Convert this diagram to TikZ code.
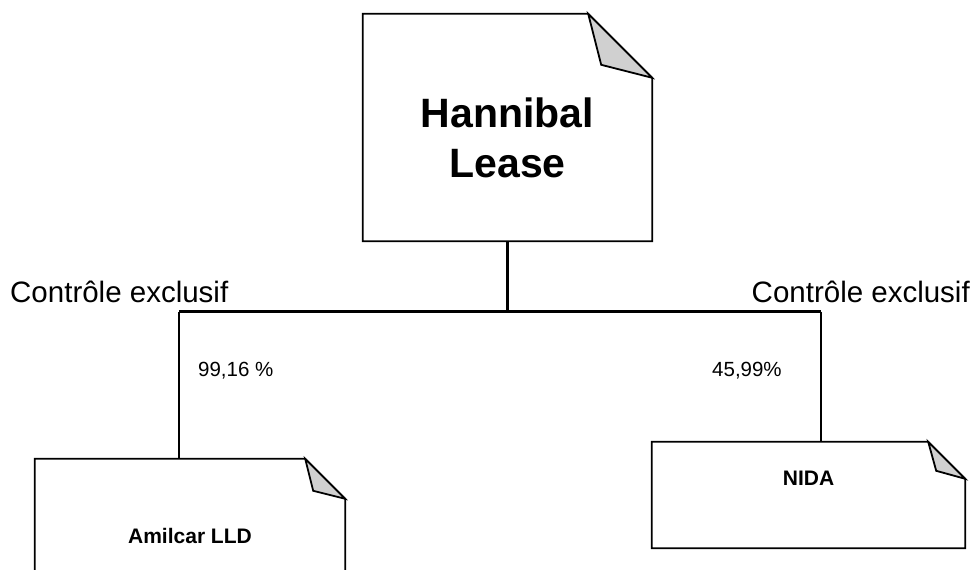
\documentclass[tikz,border=0pt]{standalone}
\usepackage{fontspec}
\setmainfont{Liberation Sans}
\usetikzlibrary{calc}
\definecolor{foldgray}{HTML}{D0D0D0}
\tikzset{
  boxline/.style={line width=1.8pt, line join=miter},
  conn/.style={line width=2.4pt},
  docbox/.style={rectangle, inner sep=0pt, draw=none},
  lbl/.style={inner sep=0pt, font=\fontsize{29.5}{35}\selectfont},
  pct/.style={inner sep=0pt, font=\fontsize{20.5}{24}\selectfont},
  ttl/.style={inner sep=0pt, font=\bfseries\fontsize{41}{49}\selectfont},
  small/.style={inner sep=0pt, font=\bfseries\fontsize{21}{25}\selectfont}
}
\newcommand\dogear[3]{%
  \draw[boxline, fill=white] (#1.south west) -- (#1.north west) -- ($(#1.north east)+(-#2,0)$) -- ($(#1.north east)+(0,#2)$) -- (#1.south east) -- cycle;
  \draw[boxline, fill=foldgray] ($(#1.north east)+(-#2,0)$) -- ($(#1.north east)+(-#3,#3)$) -- ($(#1.north east)+(0,#2)$) -- cycle;}
\begin{document}
\begin{tikzpicture}[x=1pt,y=-1pt]
\useasboundingbox (0,0) rectangle (977,570);
\clip (0,0) rectangle (977,570);
% boxes
\node[docbox, minimum width=289pt, minimum height=227pt] (top) at (507.5,127.5) {};
\node[docbox, minimum width=310pt, minimum height=153pt] (amil) at (190,535.5) {};
\node[docbox, minimum width=313pt, minimum height=106pt] (nida) at (808.5,495) {};
% connectors
\coordinate (jl) at (179,311.5);
\coordinate (jr) at (821,311.5);
\draw[conn] (top.south) -- (top.south |- jl);
\draw[conn] (jl) -- (jr);
\draw[conn] (jl) -- (jl |- amil.north);
\draw[conn] (jr) -- (jr |- nida.north);
% box outlines with folded corners
\dogear{top}{64}{51}
\dogear{amil}{40}{32}
\dogear{nida}{37}{29}
% texts
\node[ttl, anchor=base] (t1) at (507.5,127) {Hannibal};
\node[ttl, anchor=base] (t2) at (507.5,177) {Lease};
\node[small, anchor=base] (amiltxt) at (190,543) {Amilcar LLD};
\node[small, anchor=base] (nidatxt) at (808.5,485) {NIDA};
\node[lbl, anchor=base west] (cl) at (10,302) {Contrôle exclusif};
\node[lbl, anchor=base east] (cr) at (970,302) {Contrôle exclusif};
\node[pct, anchor=base west] (pl) at (198,376) {99,16 \%};
\node[pct, anchor=base west] (pr) at (712,376) {45,99\%};
\end{tikzpicture}
\end{document}
